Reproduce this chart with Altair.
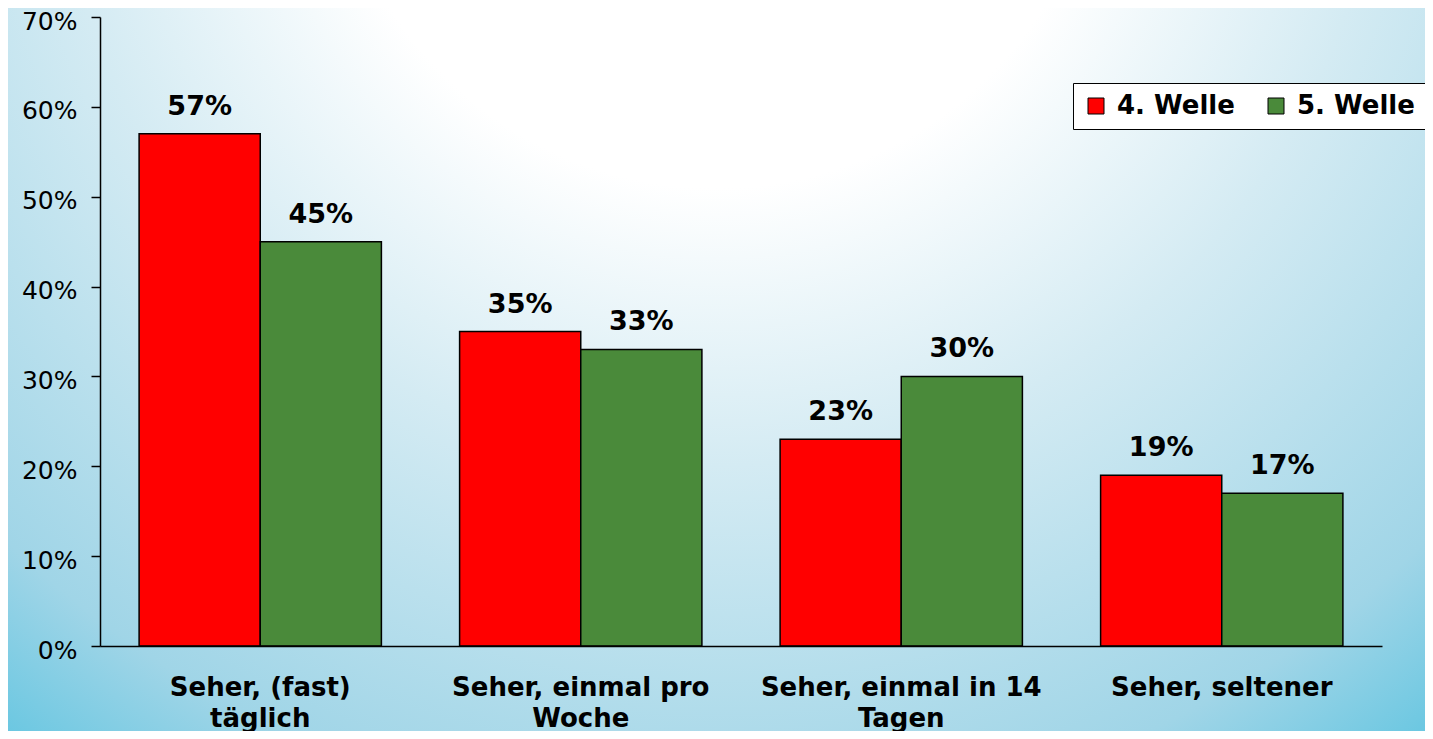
import altair as alt
import pandas as pd

categories = ["Seher, (fast)|täglich", "Seher, einmal pro|Woche", "Seher, einmal in 14|Tagen", "Seher, seltener"]
series = ["4. Welle", "5. Welle"]
welle4 = [57, 35, 23, 19]
welle5 = [45, 33, 30, 17]
colors = ["#ff0000", "#4a8a3a"]

rows = []
for i, c in enumerate(categories):
    rows.append({"cat": c, "serie": series[0], "val": welle4[i] / 100})
    rows.append({"cat": c, "serie": series[1], "val": welle5[i] / 100})
df = pd.DataFrame(rows)

W, H = 1282, 629
PL, PT, PR, PB = 92, 9, 43, 85

bg = alt.Chart(pd.DataFrame({"a": [0]})).mark_rect(
    clip=False,
    color=alt.RadialGradient(
        gradient="radial", x1=0.5, y1=0.1, r1=0, x2=0.5, y2=0.1, r2=0.85,
        stops=[
            alt.GradientStop(offset=0, color="#ffffff"),
            alt.GradientStop(offset=0.32, color="#ffffff"),
            alt.GradientStop(offset=0.55, color="#d4ebf3"),
            alt.GradientStop(offset=0.85, color="#a0d5e7"),
            alt.GradientStop(offset=1, color="#5ec4e0"),
        ],
    ),
).encode(
    x=alt.value(-PL), x2=alt.value(W + PR), y=alt.value(-PT), y2=alt.value(H + PB)
)

xenc = alt.X(
    "cat:N", sort=categories,
    scale=alt.Scale(paddingInner=0.244, paddingOuter=0.122),
    axis=alt.Axis(
        title=None, labelAngle=0, ticks=False, domainColor="black", domainWidth=1.5,
        labelFont="DejaVu Sans", labelFontWeight="bold", labelFontSize=26,
        labelColor="black", labelPadding=28, labelLineHeight=31,
        labelExpr="split(datum.label, '|')", labelLimit=400, zindex=2,
    ),
)
yenc = alt.Y(
    "val:Q",
    scale=alt.Scale(domain=[0, 0.7]),
    axis=alt.Axis(
        title=None, format=".0%", values=[0, 0.1, 0.2, 0.3, 0.4, 0.5, 0.6, 0.7],
        grid=False, tickSize=9, tickColor="black", tickWidth=1.5,
        domainColor="black", domainWidth=1.5,
        labelFont="DejaVu Sans", labelFontSize=25, labelColor="black",
        labelPadding=14, labelBaseline="middle", labelOffset=4, zindex=2,
    ),
)

bars = alt.Chart(df).mark_bar(stroke="black", strokeWidth=1.5).encode(
    x=xenc,
    xOffset=alt.XOffset("serie:N", sort=series, scale=alt.Scale(paddingInner=0, paddingOuter=0)),
    y=yenc,
    color=alt.Color(
        "serie:N", sort=series,
        scale=alt.Scale(domain=series, range=colors),
        legend=alt.Legend(
            title=None, orient="none", legendX=973, legendY=66, direction="horizontal",
            symbolType="square", symbolSize=256, symbolStrokeColor="black",
            symbolStrokeWidth=1, labelFont="DejaVu Sans", labelFontWeight="bold",
            labelFontSize=26, labelColor="black", labelOffset=8, columnPadding=28,
            padding=10, fillColor="white", strokeColor="black", labelLimit=300,
            offset=0, zindex=2,
        ),
    ),
)

text = alt.Chart(df).mark_text(
    dy=-13, baseline="bottom", font="DejaVu Sans", fontWeight="bold", fontSize=27, color="black"
).encode(
    x=alt.X("cat:N", sort=categories),
    xOffset=alt.XOffset("serie:N", sort=series),
    y="val:Q",
    text=alt.Text("val:Q", format=".0%"),
)

chart = alt.layer(bg, bars, text).properties(
    width=W, height=H,
    autosize=alt.AutoSizeParams(type="none"),
    padding={"left": PL, "top": PT, "right": PR, "bottom": PB},
).configure_view(stroke=None)

chart.save("out.html", embed_options={"renderer": "svg", "actions": False})
